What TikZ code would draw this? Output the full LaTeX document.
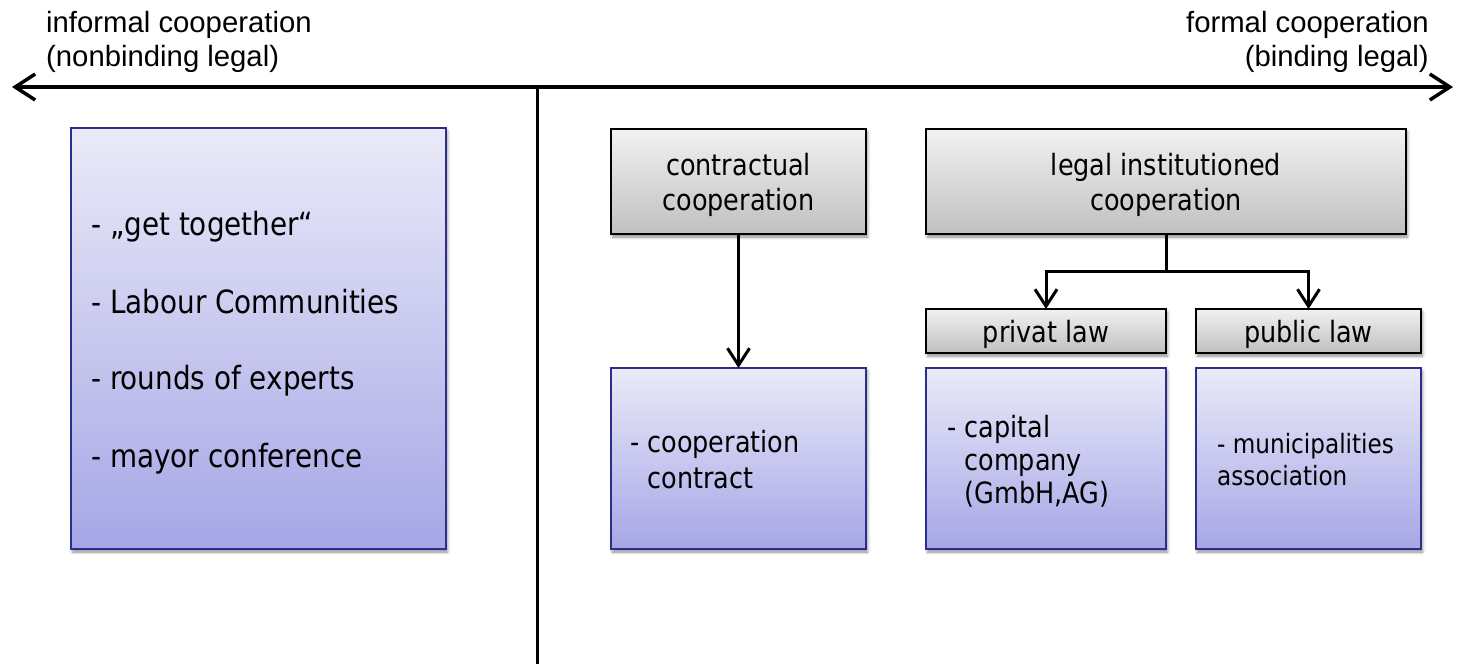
\documentclass[tikz,border=0pt]{standalone}
\usepackage{fontspec}
\setmainfont{Liberation Sans}
\newfontfamily\boxfont[FakeStretch=0.87]{DejaVu Sans}
\usetikzlibrary{arrows.meta,shadows.blur}

\definecolor{boxblue}{RGB}{44,46,140}
\definecolor{bluetop}{RGB}{234,234,249}
\definecolor{bluebot}{RGB}{166,166,230}
\definecolor{graytop}{RGB}{241,241,241}
\definecolor{graybot}{RGB}{192,192,192}

\tikzset{
  box/.style={rectangle, inner sep=0pt, outer sep=0pt, line width=2pt,
    blur shadow={shadow xshift=1.5pt, shadow yshift=-3pt,
                 shadow blur radius=3pt, shadow opacity=45}},
  graybox/.style={box, draw=black, top color=graytop, bottom color=graybot},
  bluebox/.style={box, draw=boxblue, top color=bluetop, bottom color=bluebot},
  boxtext/.style={font=\boxfont\fontsize{29.3}{35}\selectfont, inner sep=0pt},
  bigtext/.style={font=\boxfont\fontsize{32}{38}\selectfont, inner sep=0pt},
  smalltext/.style={font=\boxfont\fontsize{26.6}{32}\selectfont, inner sep=0pt},
  toplabel/.style={font=\fontsize{29.3}{35}\selectfont, inner sep=0pt},
  axisline/.style={line width=3.5pt,
    {Straight Barb[length=20pt,width=26pt]}-{Straight Barb[length=20pt,width=26pt]}},
  divider/.style={line width=3pt},
  link/.style={line width=3pt, -{Straight Barb[length=17pt,width=22pt]}},
  trunk/.style={line width=3pt},
}

\begin{document}
\begin{tikzpicture}[x=1pt, y=-1pt]
\useasboundingbox (0,0) rectangle (1459,664);

% axis from informal to formal cooperation
\coordinate (axl) at (12,87);
\coordinate (axr) at (1453,87);
\coordinate (vtop) at (537,87);
\coordinate (vbot) at (537,664);
\draw[axisline] (axl) -- (axr);
\draw[divider] (vtop) -- (vbot);

\node[toplabel, anchor=base west] (inf1) at (46,32) {informal cooperation};
\node[toplabel, anchor=base west] (inf2) at (46,66) {(nonbinding legal)};
\node[toplabel, anchor=base east] (for1) at (1429,32) {formal cooperation};
\node[toplabel, anchor=base east] (for2) at (1429,66) {(binding legal)};

% informal side
\node[bluebox, minimum width=375pt, minimum height=421pt] (informal) at (258.5,338.5) {};
\node[bigtext, anchor=base west] (i1) at (91,235) {- „get together“};
\node[bigtext, anchor=base west] (i2) at (91,313) {- Labour Communities};
\node[bigtext, anchor=base west] (i3) at (91,389) {- rounds of experts};
\node[bigtext, anchor=base west] (i4) at (91,467) {- mayor conference};

% formal side: header boxes
\node[graybox, minimum width=255pt, minimum height=105pt] (contr) at (738.5,181.5) {};
\node[boxtext, anchor=base] (c1) at (738.5,175) {contractual};
\node[boxtext, anchor=base] (c2) at (738.5,210) {cooperation};

\node[graybox, minimum width=480pt, minimum height=105pt] (legal) at (1166,181.5) {};
\node[boxtext, anchor=base] (l1) at (1166,175) {legal institutioned};
\node[boxtext, anchor=base] (l2) at (1166,210) {cooperation};

\node[graybox, minimum width=240pt, minimum height=44pt] (privat) at (1046,331) {};
\node[boxtext, anchor=base] (p1) at (1046,342) {privat law};
\node[graybox, minimum width=225pt, minimum height=44pt] (public) at (1308.5,331) {};
\node[boxtext, anchor=base] (q1) at (1308.5,342) {public law};

% formal side: examples
\node[bluebox, minimum width=255pt, minimum height=181pt] (contract) at (738.5,458.5) {};
\node[boxtext, anchor=base west] (k1) at (630,452) {- cooperation};
\node[boxtext, anchor=base west] (k2) at (630,488) {\phantom{- }contract};

\node[bluebox, minimum width=240pt, minimum height=181pt] (capital) at (1046,458.5) {};
\node[boxtext, anchor=base west] (g1) at (947,437) {- capital};
\node[boxtext, anchor=base west] (g2) at (947,470) {\phantom{- }company};
\node[boxtext, anchor=base west] (g3) at (947,503) {\phantom{- }(GmbH,AG)};

\node[bluebox, minimum width=225pt, minimum height=181pt] (municip) at (1308.5,458.5) {};
\node[smalltext, anchor=base west] (m1) at (1217,453) {- municipalities};
\node[smalltext, anchor=base west] (m2) at (1217,485) {association};

% connectors
\draw[link] (contr.south) -- (contract.north);
\draw[trunk] (legal.south) -- ++(0,37) coordinate (fork);
\draw[link] (fork) -| (privat.north);
\draw[link] (fork) -| (public.north);
\end{tikzpicture}
\end{document}
